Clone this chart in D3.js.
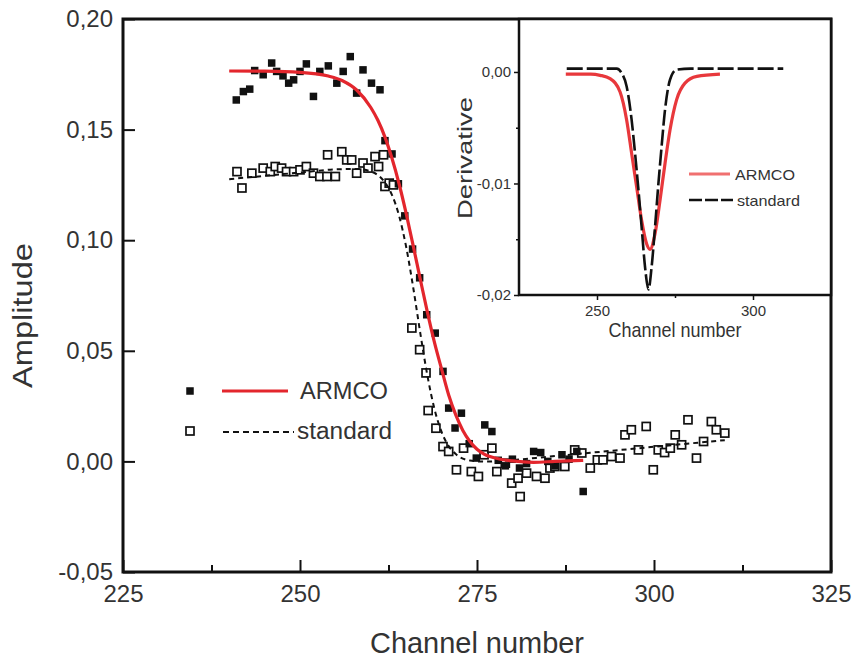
<!DOCTYPE html>
<html><head><meta charset="utf-8">
<script src="https://cdn.jsdelivr.net/npm/d3@7"></script>
<style>
body{margin:0;background:#fff}
svg{display:block}
text{font-family:"Liberation Sans",Arial,sans-serif;fill:#333}
</style>
</head><body>
<svg id="c" width="856" height="661"></svg>
<script>
// ---------- data ----------
const seriesNames = ["ARMCO", "standard"];

const armcoX = [241.0,242.0,242.9,243.6,244.8,246.0,246.7,247.6,248.4,249.1,250.0,250.9,251.9,252.8,254.0,255.2,256.1,257.1,258.0,258.9,260.1,261.3,262.0,263.0,263.9,264.8,265.9,266.9,267.9,269.1,270.2,271.0,271.9,272.8,273.9,274.9,276.1,277.1,278.0,279.0,280.0,281.0,282.0,283.0,284.0,285.0,286.0,287.0,288.0,289.1,290.0];
const armcoY = [0.1634,0.1672,0.1683,0.1767,0.1748,0.1801,0.1763,0.1743,0.1710,0.1725,0.1763,0.1797,0.1650,0.1763,0.1788,0.1710,0.1763,0.1830,0.1665,0.1770,0.1710,0.1680,0.1450,0.1390,0.1255,0.1110,0.0960,0.0830,0.0663,0.0580,0.0407,0.0241,0.0151,0.0218,0.0080,0.0015,0.0165,0.0135,0.0005,-0.0020,0.0010,-0.0030,-0.0010,0.0045,0.0040,0.0000,-0.0020,0.0030,0.0010,0.0045,-0.0136];

const standardX = [241.1,241.8,243.2,244.8,245.8,246.5,247.4,248.1,249.1,250.0,250.9,251.9,252.8,253.8,253.9,255.0,255.9,256.6,257.3,258.0,258.9,259.6,260.6,261.1,261.8,262.0,262.6,263.2,265.8,266.9,267.8,268.1,269.2,270.2,271.0,272.1,273.1,274.2,275.2,276.0,277.1,277.8,279.0,279.9,280.8,281.1,282.0,283.4,284.6,285.3,286.0,287.4,288.8,289.8,291.0,292.0,292.8,294.0,295.2,295.9,296.8,297.8,298.9,299.9,300.6,301.5,302.3,303.0,303.9,304.8,306.0,307.0,308.1,308.8,310.0];
const standardY = [0.1310,0.1236,0.1303,0.1326,0.1310,0.1333,0.1326,0.1310,0.1310,0.1318,0.1333,0.1303,0.1288,0.1288,0.1386,0.1288,0.1400,0.1363,0.1363,0.1303,0.1349,0.1326,0.1378,0.1333,0.1386,0.1243,0.1258,0.1250,0.0603,0.0505,0.0400,0.0230,0.0150,0.0067,0.0045,-0.0038,0.0060,-0.0046,-0.0068,0.0030,0.0060,-0.0046,-0.0008,-0.0098,-0.0076,-0.0159,-0.0053,-0.0068,-0.0076,-0.0030,-0.0023,-0.0023,0.0052,0.0038,-0.0030,0.0007,0.0007,0.0022,0.0015,0.0120,0.0143,0.0052,0.0158,-0.0038,0.0052,0.0040,0.0060,0.0120,0.0075,0.0188,0.0015,0.0090,0.0180,0.0143,0.0128];

const armcoFitX = [240,245,250,254,256,258,260,261,262,263,264,265,266,267,268,269,270,271,272,273,274,275,276,278,280,283,286,290];
const armcoFitY = [0.1765,0.1764,0.1759,0.1742,0.1721,0.1679,0.1600,0.1542,0.1466,0.1369,0.1254,0.1120,0.0973,0.0822,0.0674,0.0537,0.0417,0.0300,0.0210,0.0140,0.0090,0.0055,0.0033,0.0012,0.0002,-0.0004,0.0000,0.0005];

const standardFitX = [240,245,250,255,258,260,261,262,263,264,265,266,267,268,269,270,271,272,274,276,278,280,285,290,295,300,305,310];
const standardFitY = [0.1276,0.1291,0.1306,0.1320,0.1322,0.1311,0.1294,0.1261,0.1204,0.1110,0.0969,0.0784,0.0578,0.0387,0.0236,0.0133,0.0069,0.0033,0.0004,-0.0001,0.0001,0.0006,0.0021,0.0036,0.0051,0.0066,0.0081,0.0096];

const derivArmcoX = [240,248,251,254.2,257.4,259.5,261.1,262.7,264.3,265.9,267.0,268.6,270.2,271.8,273.4,275.5,278.2,282.0,289.4];
const derivArmcoY = [-0.0002,-0.0002,-0.0003,-0.0006,-0.0018,-0.0043,-0.0073,-0.0103,-0.0133,-0.0154,-0.0159,-0.0145,-0.0115,-0.0082,-0.0052,-0.0025,-0.0010,-0.0004,-0.0002];

const derivStdX = [240.3,250,256.3,257.9,259.5,261.1,262.2,263.2,264.3,265.4,266.5,267.5,268.6,269.6,270.7,271.8,273.4,275.5,280,290,300,309.7];
const derivStdY = [0.0003,0.0003,0.0003,-0.0001,-0.0013,-0.0043,-0.0073,-0.0103,-0.0139,-0.0175,-0.0195,-0.0175,-0.0139,-0.0103,-0.0067,-0.0034,-0.0007,0.0002,0.0003,0.0003,0.0003,0.0003];

const xTicks = [225,250,275,300,325];
const xMinorTicks = [237.5,262.5,287.5,312.5];
const yTicks = [-0.05,0.00,0.05,0.10,0.15,0.20];
const insetXTicks = [250,300];
const insetXMinor = [275];
const insetYTicks = [0.00,-0.01,-0.02];
const insetYMinor = [-0.005,-0.015];
const xTitle = "Channel number";
const yTitle = "Amplitude";
const insetYTitle = "Derivative";

// ---------- drawing ----------
const svg = d3.select("#c");
const loc = d3.formatLocale({decimal:",", thousands:".", grouping:[3], currency:["",""], minus:"-"});
const fmt2 = loc.format(".2f");

const x = d3.scaleLinear().domain([225,325]).range([123,831]);
const y = d3.scaleLinear().domain([-0.05,0.20]).range([572,19]);

// main axes
const gy = svg.append("g").attr("transform","translate(123,0)")
  .call(d3.axisLeft(y).tickValues(yTicks).tickSizeInner(-12).tickSizeOuter(0).tickPadding(10).tickFormat(fmt2));
const gx = svg.append("g").attr("transform","translate(0,572)")
  .call(d3.axisBottom(x).tickValues(xTicks).tickSizeInner(-12).tickSizeOuter(0).tickPadding(13).tickFormat(d3.format("d")));
const gxm = svg.append("g").attr("transform","translate(0,572)")
  .call(d3.axisBottom(x).tickValues(xMinorTicks).tickSizeInner(-7).tickSizeOuter(0).tickFormat(""));
[gy,gx,gxm].forEach(g=>{
  g.select(".domain").remove();
  g.selectAll(".tick line").attr("stroke","#111").attr("stroke-width",2);
  g.selectAll(".tick text").attr("font-size",24).attr("fill","#333")
   .attr("font-family","'Liberation Sans',Arial,sans-serif");
});

svg.append("rect").attr("x",x(225)).attr("y",y(0.20))
  .attr("width",x(325)-x(225)).attr("height",y(-0.05)-y(0.20))
  .attr("fill","none").attr("stroke","#111").attr("stroke-width",3);

// axis titles
svg.append("text").attr("x",(x(225)+x(325))/2).attr("y",653)
  .attr("text-anchor","middle").attr("font-size",29)
  .attr("textLength",214).attr("lengthAdjust","spacingAndGlyphs").text(xTitle);
svg.append("text").attr("transform",`translate(32,${(y(0.20)+y(-0.05))/2+20}) rotate(-90)`)
  .attr("text-anchor","middle").attr("font-size",28)
  .attr("textLength",145).attr("lengthAdjust","spacingAndGlyphs").text(yTitle);

// data markers
const ms = 7.5;
svg.append("g").selectAll("rect").data(standardX.map((v,i)=>[v,standardY[i]])).join("rect")
  .attr("x",d=>x(d[0])-4).attr("y",d=>y(d[1])-4).attr("width",8).attr("height",8)
  .attr("fill","#fff").attr("stroke","#111").attr("stroke-width",1.7);
svg.append("g").selectAll("rect").data(armcoX.map((v,i)=>[v,armcoY[i]])).join("rect")
  .attr("x",d=>x(d[0])-ms/2).attr("y",d=>y(d[1])-ms/2).attr("width",ms).attr("height",ms)
  .attr("fill","#111");

const line = d3.line().x(d=>x(d[0])).y(d=>y(d[1])).curve(d3.curveMonotoneX);
svg.append("path").datum(standardFitX.map((v,i)=>[v,standardFitY[i]]))
  .attr("d",line).attr("fill","none").attr("stroke","#111").attr("stroke-width",2)
  .attr("stroke-dasharray","5,4");
svg.append("path").datum(armcoFitX.map((v,i)=>[v,armcoFitY[i]]))
  .attr("d",line).attr("fill","none").attr("stroke","#e3262d").attr("stroke-width",3.2);

// main legend
const lg = svg.append("g");
lg.append("rect").attr("x",190-ms/2).attr("y",391-ms/2).attr("width",ms).attr("height",ms).attr("fill","#111");
lg.append("line").attr("x1",222).attr("x2",288).attr("y1",391).attr("y2",391)
  .attr("stroke","#e3262d").attr("stroke-width",3.2);
lg.append("text").attr("x",300).attr("y",399).attr("font-size",23)
  .attr("textLength",88).attr("lengthAdjust","spacingAndGlyphs").text(seriesNames[0]);
lg.append("rect").attr("x",186).attr("y",427).attr("width",8).attr("height",8)
  .attr("fill","#fff").attr("stroke","#111").attr("stroke-width",1.7);
lg.append("line").attr("x1",223).attr("x2",294).attr("y1",432).attr("y2",432)
  .attr("stroke","#111").attr("stroke-width",2).attr("stroke-dasharray","6,4");
lg.append("text").attr("x",297).attr("y",439).attr("font-size",23)
  .attr("textLength",95).attr("lengthAdjust","spacingAndGlyphs").text(seriesNames[1]);

// ---------- inset ----------
const xi = d3.scaleLinear().domain([225,325]).range([519,831]);
const yi = d3.scaleLinear().domain([-0.02,0.00475]).range([295,19]);
svg.append("rect").attr("x",xi(225)).attr("y",yi(0.00475))
  .attr("width",xi(325)-xi(225)).attr("height",yi(-0.02)-yi(0.00475)).attr("fill","#fff");

const lineI = d3.line().x(d=>xi(d[0])).y(d=>yi(d[1])).curve(d3.curveMonotoneX);
svg.append("path").datum(derivArmcoX.map((v,i)=>[v,derivArmcoY[i]]))
  .attr("d",lineI).attr("fill","none").attr("stroke","#e8383c").attr("stroke-width",3.2);
svg.append("path").datum(derivStdX.map((v,i)=>[v,derivStdY[i]]))
  .attr("d",lineI).attr("fill","none").attr("stroke","#111").attr("stroke-width",2.6)
  .attr("stroke-dasharray","16,4");

const giy = svg.append("g").attr("transform","translate(519,0)")
  .call(d3.axisLeft(yi).tickValues(insetYTicks).tickSizeInner(5).tickSizeOuter(0).tickPadding(3).tickFormat(fmt2));
const giym = svg.append("g").attr("transform","translate(519,0)")
  .call(d3.axisLeft(yi).tickValues(insetYMinor).tickSizeInner(3).tickSizeOuter(0).tickFormat(""));
const gix = svg.append("g").attr("transform","translate(0,295)")
  .call(d3.axisBottom(xi).tickValues(insetXTicks).tickSizeInner(5).tickSizeOuter(0).tickPadding(5).tickFormat(d3.format("d")));
const gixm = svg.append("g").attr("transform","translate(0,295)")
  .call(d3.axisBottom(xi).tickValues(insetXMinor).tickSizeInner(3).tickSizeOuter(0).tickFormat(""));
[giy,giym,gix,gixm].forEach(g=>{
  g.select(".domain").remove();
  g.selectAll(".tick line").attr("stroke","#111").attr("stroke-width",1.5);
  g.selectAll(".tick text").attr("font-size",15).attr("fill","#333")
   .attr("font-family","'Liberation Sans',Arial,sans-serif");
});
svg.append("rect").attr("x",xi(225)).attr("y",yi(0.00475))
  .attr("width",xi(325)-xi(225)).attr("height",yi(-0.02)-yi(0.00475))
  .attr("fill","none").attr("stroke","#111").attr("stroke-width",2.5);

svg.append("text").attr("x",(xi(225)+xi(325))/2).attr("y",337)
  .attr("text-anchor","middle").attr("font-size",21)
  .attr("textLength",133).attr("lengthAdjust","spacingAndGlyphs").text(xTitle);
svg.append("text").attr("transform",`translate(472,158) rotate(-90)`)
  .attr("text-anchor","middle").attr("font-size",20)
  .attr("textLength",122).attr("lengthAdjust","spacingAndGlyphs").text(insetYTitle);

// inset legend
svg.append("line").attr("x1",689).attr("x2",730).attr("y1",174).attr("y2",174)
  .attr("stroke","#f07070").attr("stroke-width",3);
svg.append("text").attr("x",735).attr("y",180).attr("font-size",15)
  .attr("textLength",60).attr("lengthAdjust","spacingAndGlyphs").text(seriesNames[0]);
svg.append("line").attr("x1",689).attr("x2",733).attr("y1",200).attr("y2",200)
  .attr("stroke","#111").attr("stroke-width",2.6).attr("stroke-dasharray","13,3");
svg.append("text").attr("x",737).attr("y",206).attr("font-size",15)
  .attr("textLength",63).attr("lengthAdjust","spacingAndGlyphs").text(seriesNames[1]);
</script>
</body></html>
